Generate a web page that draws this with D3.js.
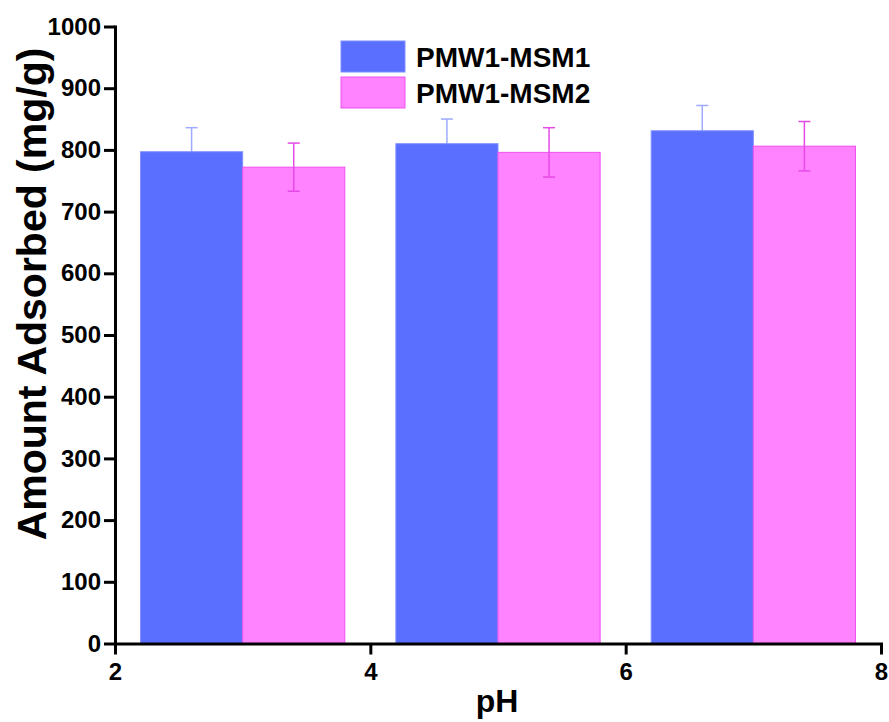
<!DOCTYPE html>
<html>
<head>
<meta charset="utf-8">
<script src="https://cdn.jsdelivr.net/npm/d3@7"></script>
<style>
  body { margin: 0; background: #fff; }
  svg { display: block; }
  text { font-family: "Liberation Sans", Arial, sans-serif; font-weight: bold; }
</style>
</head>
<body>
<svg id="chart" width="889" height="722"></svg>
<script>
// ---- data ----
const pH = [3, 5, 7];
const seriesNames = ["PMW1-MSM1", "PMW1-MSM2"];
const msm1 = [797, 810, 831];
const msm2 = [772, 796, 806];
const msm1Err = [39, 40, 41];
const msm2Err = [39, 40, 40];
const xTicks = [2, 4, 6, 8];
const yTicks = [0, 100, 200, 300, 400, 500, 600, 700, 800, 900, 1000];

// ---- styles ----
const colors = {
  fill: ["#5a6eff", "#ff82ff"],
  edge: ["#7f8fff", "#f050f0"],
  err:  ["#9eaaff", "#e64ae6"]
};
const barW = 0.8;

const svg = d3.select("#chart");
const x = d3.scaleLinear().domain([2, 8]).range([115, 881]);
const y = d3.scaleLinear().domain([0, 1000]).range([643.5, 26.5]);

const series = [
  { name: seriesNames[0], vals: msm1, errs: msm1Err, off: -barW },
  { name: seriesNames[1], vals: msm2, errs: msm2Err, off: 0 }
];

// blue error bars drawn behind bars (only upper part visible)
series.forEach((s, si) => {
  const g = svg.append("g");
  const draw = () => {
    pH.forEach((p, i) => {
      const cx = x(p + s.off + barW / 2);
      const top = y(s.vals[i] + s.errs[i]);
      const bot = y(s.vals[i] - s.errs[i]);
      g.append("line").attr("x1", cx).attr("x2", cx).attr("y1", top).attr("y2", si === 0 ? y(s.vals[i]) : bot)
        .attr("stroke", colors.err[si]).attr("stroke-width", 1.5);
      g.append("line").attr("x1", cx - 6).attr("x2", cx + 6).attr("y1", top).attr("y2", top)
        .attr("stroke", colors.err[si]).attr("stroke-width", 1.5);
      if (si === 1) {
        g.append("line").attr("x1", cx - 6).attr("x2", cx + 6).attr("y1", bot).attr("y2", bot)
          .attr("stroke", colors.err[si]).attr("stroke-width", 1.5);
      }
    });
  };
  s.drawErr = draw;
  s.g = g;
});

// bars
const barsG = svg.append("g");
series.forEach((s, si) => {
  barsG.selectAll(null).data(pH).enter().append("rect")
    .attr("x", d => x(d + s.off))
    .attr("width", x(barW) - x(0))
    .attr("y", (d, i) => y(s.vals[i]))
    .attr("height", (d, i) => y(0) - y(s.vals[i]))
    .attr("fill", colors.fill[si])
    .attr("stroke", colors.edge[si])
    .attr("stroke-width", 1);
});
// blue err behind (draw into group created before bars), pink err on top
series[0].drawErr();
const pinkG = svg.append("g");
series[1].g = pinkG;
(function () {
  const s = series[1], si = 1;
  pH.forEach((p, i) => {
    const cx = x(p + s.off + barW / 2);
    const top = y(s.vals[i] + s.errs[i]);
    const bot = y(s.vals[i] - s.errs[i]);
    pinkG.append("line").attr("x1", cx).attr("x2", cx).attr("y1", top).attr("y2", bot)
      .attr("stroke", colors.err[si]).attr("stroke-width", 1.5);
    [top, bot].forEach(yy => pinkG.append("line").attr("x1", cx - 6).attr("x2", cx + 6).attr("y1", yy).attr("y2", yy)
      .attr("stroke", colors.err[si]).attr("stroke-width", 1.5));
  });
})();

// axes
const xAxis = svg.append("g").attr("transform", `translate(0,${y(0)})`)
  .call(d3.axisBottom(x).tickValues(xTicks).tickSize(11).tickSizeOuter(0).tickPadding(8).tickFormat(d3.format("d")));
const yAxis = svg.append("g").attr("transform", `translate(${x(2)},0)`)
  .call(d3.axisLeft(y).tickValues(yTicks).tickSize(11).tickSizeOuter(0).tickPadding(3).tickFormat(d3.format("d")));
[xAxis, yAxis].forEach(a => {
  a.select(".domain").attr("stroke", "#000").attr("stroke-width", 3).attr("stroke-linecap", "square");
  a.selectAll(".tick line").attr("stroke", "#000").attr("stroke-width", 3);
  a.selectAll(".tick text").attr("fill", "#000").style("font-size", "24px")
    .style("font-family", '"Liberation Sans", Arial, sans-serif').style("font-weight", "bold");
});

// axis titles
svg.append("text").attr("x", 497).attr("y", 712).attr("text-anchor", "middle")
  .style("font-size", "32px").text("pH");
svg.append("text").attr("transform", "translate(46,294) rotate(-90)").attr("text-anchor", "middle")
  .style("font-size", "41px").text("Amount Adsorbed (mg/g)");

// legend
const legend = svg.append("g");
seriesNames.forEach((n, i) => {
  const top = 41 + i * 36;
  legend.append("rect").attr("x", 341).attr("y", top).attr("width", 64).attr("height", 31)
    .attr("fill", colors.fill[i]).attr("stroke", colors.edge[i]).attr("stroke-width", 1);
  legend.append("text").attr("x", 416).attr("y", top + 26).style("font-size", "28px").attr("fill", "#000").text(n);
});
</script>
</body>
</html>
